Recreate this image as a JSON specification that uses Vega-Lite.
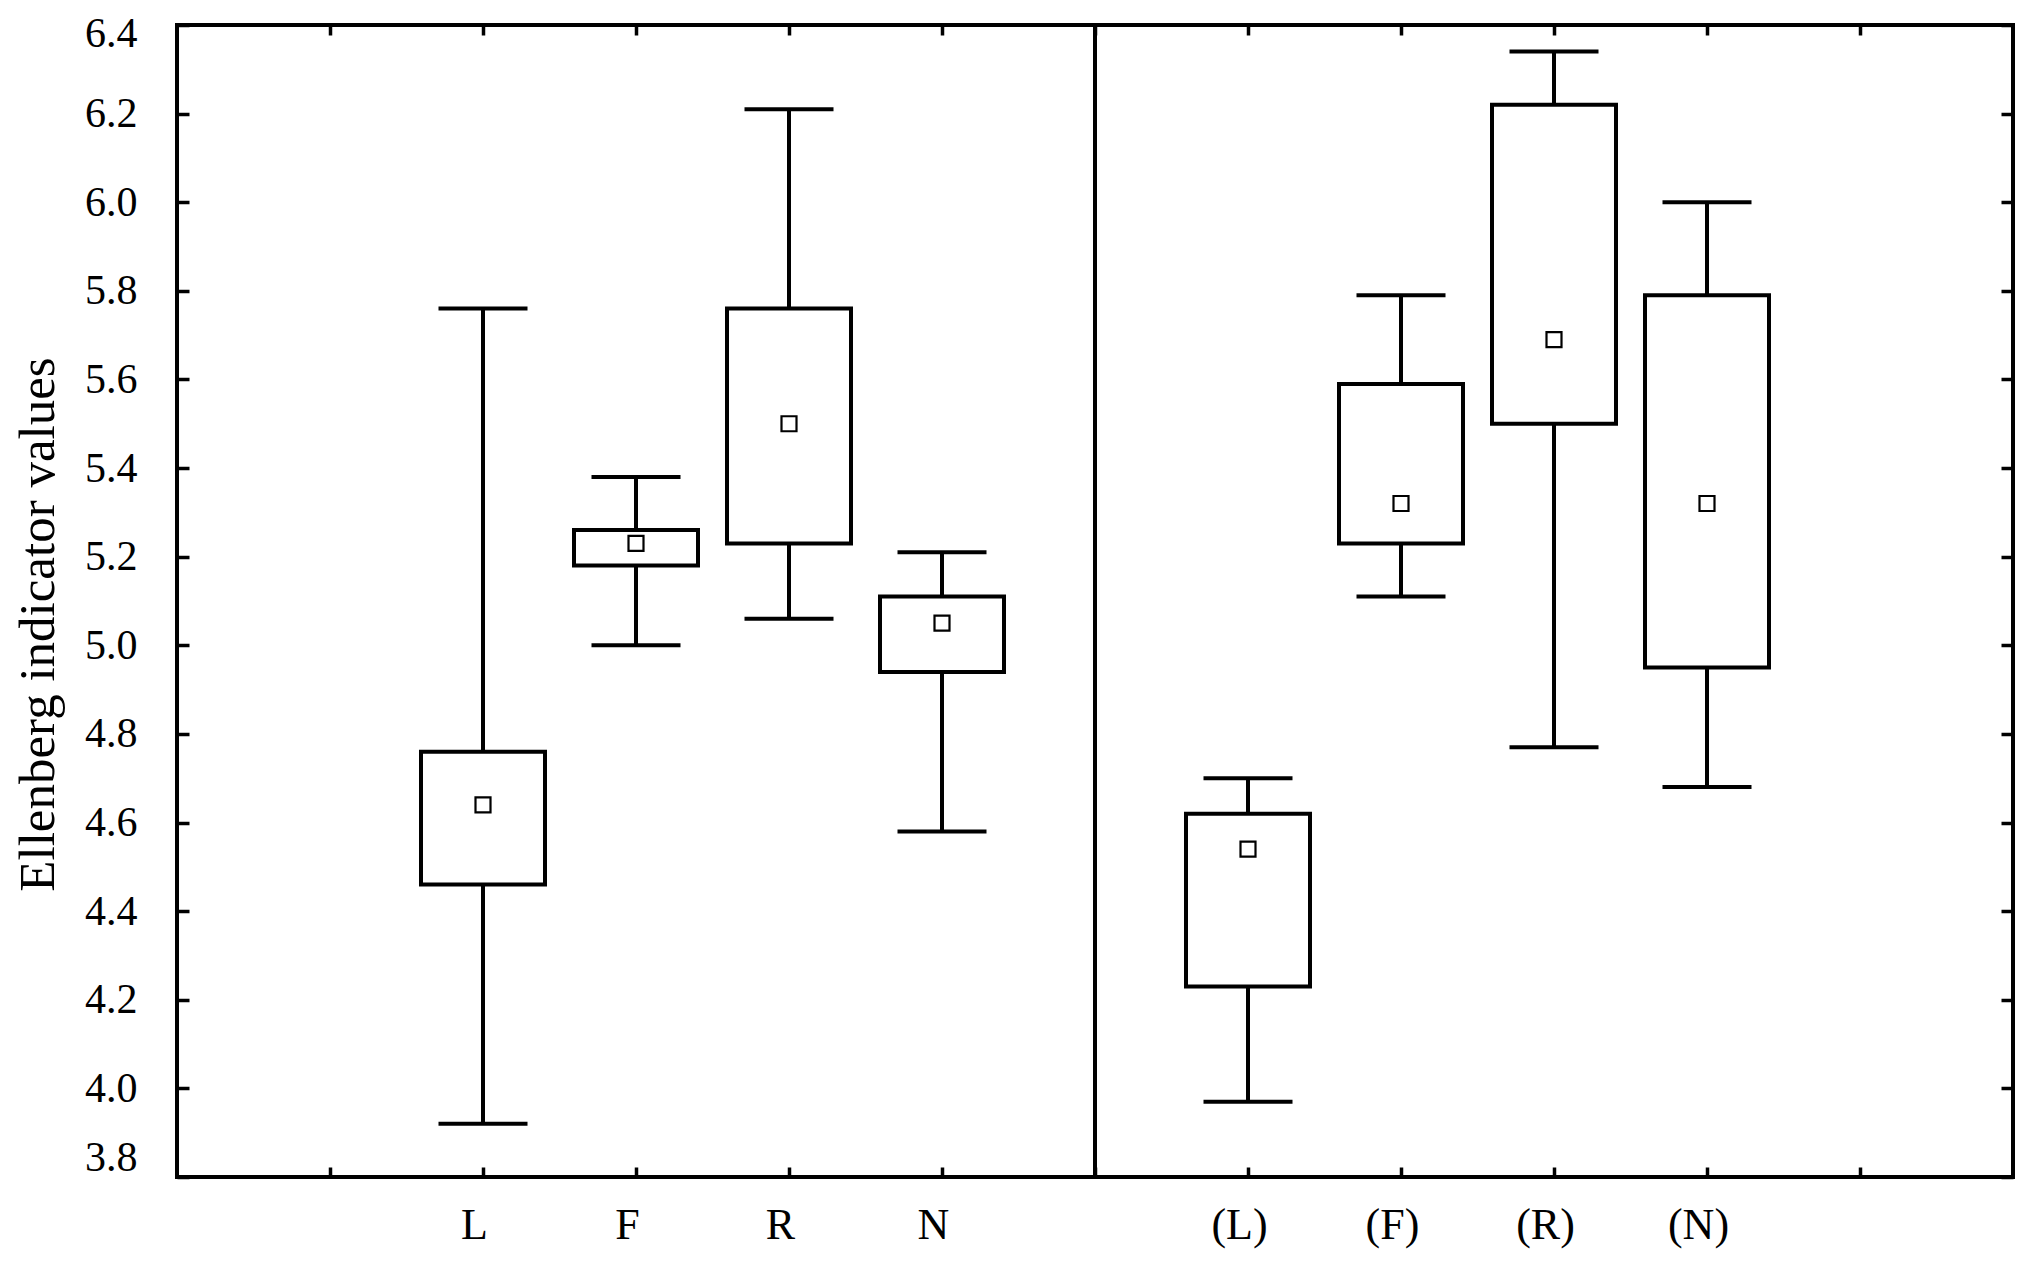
{
  "$schema": "https://vega.github.io/schema/vega-lite/v6.json",
  "width": 1836,
  "height": 1152,
  "autosize": "none",
  "padding": {"left": 177, "top": 25, "right": 29, "bottom": 89},
  "background": "white",
  "config": {
    "font": "Liberation Serif",
    "view": {"stroke": "black", "strokeWidth": 4},
    "axis": {
      "grid": false,
      "domain": false,
      "tickColor": "black",
      "tickWidth": 3.5,
      "labelColor": "black",
      "labelFont": "Liberation Serif",
      "labelFontSize": 42,
      "titleFont": "Liberation Serif",
      "titleColor": "black",
      "titleFontWeight": "normal"
    }
  },
  "data": {
    "values": [
      {"cat": "L", "lo": 3.92, "q1": 4.46, "mean": 4.64, "q3": 4.76, "hi": 5.76},
      {"cat": "F", "lo": 5.0, "q1": 5.18, "mean": 5.23, "q3": 5.26, "hi": 5.38},
      {"cat": "R", "lo": 5.06, "q1": 5.23, "mean": 5.5, "q3": 5.76, "hi": 6.21},
      {"cat": "N", "lo": 4.58, "q1": 4.94, "mean": 5.05, "q3": 5.11, "hi": 5.21},
      {"cat": "(L)", "lo": 3.97, "q1": 4.23, "mean": 4.54, "q3": 4.62, "hi": 4.7},
      {"cat": "(F)", "lo": 5.11, "q1": 5.23, "mean": 5.32, "q3": 5.59, "hi": 5.79},
      {"cat": "(R)", "lo": 4.77, "q1": 5.5, "mean": 5.69, "q3": 6.22, "hi": 6.34},
      {"cat": "(N)", "lo": 4.68, "q1": 4.95, "mean": 5.32, "q3": 5.79, "hi": 6.0}
    ]
  },
  "layer": [
    {
      "mark": {"type": "rule", "color": "black", "strokeWidth": 4},
      "encoding": {
        "x": {
          "field": "cat", "type": "nominal",
          "scale": {"type": "point", "padding": 1, "domain": ["", "L", "F", "R", "N", " ", "(L)", "(F)", "(R)", "(N)", "  "]},
          "axis": {"orient": "bottom", "title": null, "tickSize": -10, "labelPadding": 36, "labelOffset": -9, "labelAngle": 0, "labelFontSize": 44}
        },
        "y": {
          "field": "lo", "type": "quantitative",
          "scale": {"domain": [3.8, 6.4], "nice": false, "zero": false},
          "axis": {
            "orient": "left",
            "values": [3.8, 4.0, 4.2, 4.4, 4.6, 4.8, 5.0, 5.2, 5.4, 5.6, 5.8, 6.0, 6.2, 6.4],
            "format": ".1f",
            "tickSize": -12,
            "labelPadding": 52,
            "labelFlush": false,
            "labelBaseline": "middle",
            "labelOffset": {"expr": "datum.value > 6.35 ? 8 : (datum.value < 3.85 ? -20 : 0)"},
            "title": "Ellenberg indicator values",
            "titleFontSize": 51,
            "titleAngle": -90,
            "titleX": -124,
            "titleY": 599,
            "titleAlign": "center",
            "titleBaseline": "alphabetic"
          }
        },
        "y2": {"field": "hi"}
      }
    },
    {
      "mark": {"type": "bar", "width": 124, "fill": "white", "stroke": "black", "strokeWidth": 4},
      "encoding": {
        "x": {"field": "cat", "type": "nominal", "axis": null},
        "y": {"field": "q1", "type": "quantitative", "axis": null},
        "y2": {"field": "q3"}
      }
    },
    {
      "mark": {"type": "tick", "color": "black", "size": 89, "thickness": 4, "opacity": 1},
      "encoding": {
        "x": {"field": "cat", "type": "nominal", "axis": null},
        "y": {"field": "lo", "type": "quantitative", "axis": null}
      }
    },
    {
      "mark": {"type": "tick", "color": "black", "size": 89, "thickness": 4, "opacity": 1},
      "encoding": {
        "x": {"field": "cat", "type": "nominal", "axis": null},
        "y": {"field": "hi", "type": "quantitative", "axis": null}
      }
    },
    {
      "mark": {"type": "point", "shape": "square", "size": 225, "filled": false, "fill": "white", "stroke": "black", "strokeWidth": 2.2, "opacity": 1},
      "encoding": {
        "x": {
          "field": "cat", "type": "nominal",
          "axis": {"orient": "top", "title": null, "labels": false, "tickSize": -10}
        },
        "y": {
          "field": "mean", "type": "quantitative",
          "axis": {"orient": "right", "title": null, "labels": false, "tickSize": -12,
            "values": [3.8, 4.0, 4.2, 4.4, 4.6, 4.8, 5.0, 5.2, 5.4, 5.6, 5.8, 6.0, 6.2, 6.4]}
        }
      }
    },
    {
      "mark": {"type": "rule", "color": "black", "strokeWidth": 4},
      "encoding": {
        "x": {"datum": " ", "type": "nominal", "axis": null}
      }
    }
  ],
  "resolve": {"axis": {"x": "independent", "y": "independent"}}
}
